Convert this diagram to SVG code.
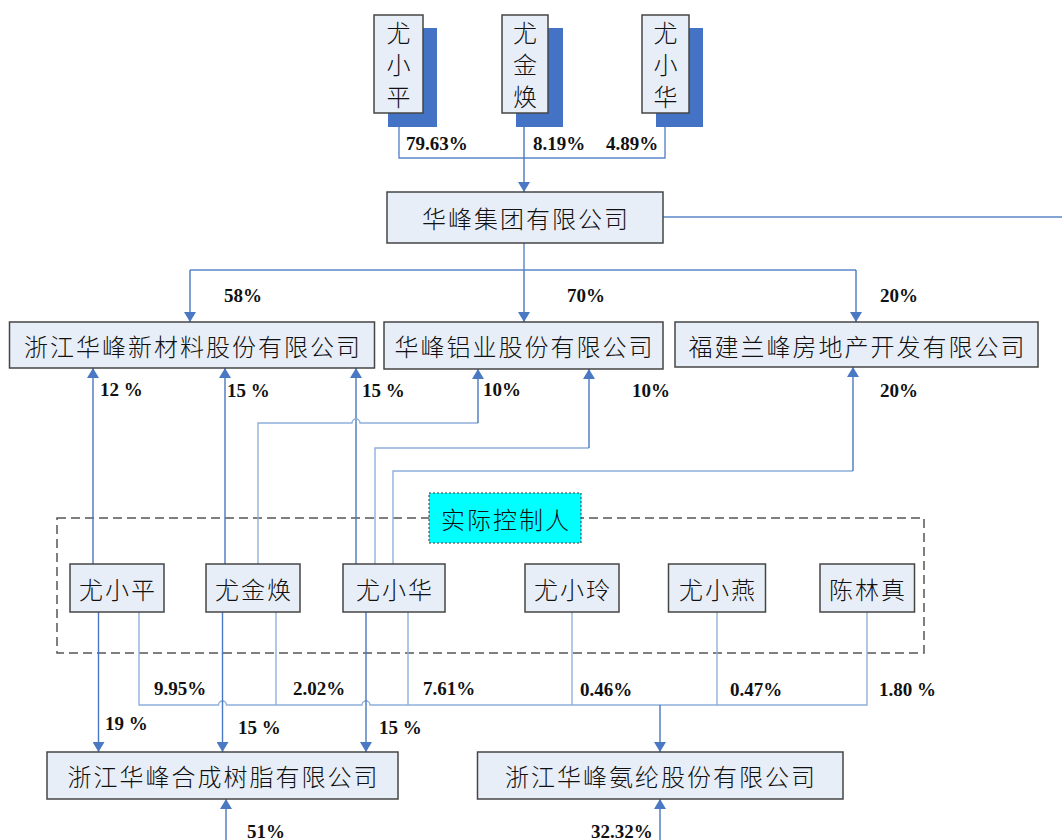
<svg xmlns="http://www.w3.org/2000/svg" width="1062" height="840" viewBox="0 0 1062 840">
<defs>
<marker id="arr" viewBox="0 0 10 12" refX="10" refY="6" markerWidth="10" markerHeight="12" markerUnits="userSpaceOnUse" orient="auto">
<path d="M0,0 L10,6 L0,12 Z" fill="#4a78c2"/>
</marker>
<style>
.box{fill:#e8eef8;stroke:#454545;stroke-width:1.5}
.shadow{fill:#4472c4}
.t{font-family:"Noto Sans CJK SC","Noto Sans",sans-serif;font-size:24px;font-weight:300;fill:#111;text-anchor:middle;dominant-baseline:central;letter-spacing:2px}
.tv{font-family:"Noto Sans CJK SC","Noto Sans",sans-serif;font-size:24px;font-weight:300;fill:#111;text-anchor:middle;dominant-baseline:central}
.p{font-family:"Liberation Serif","Times New Roman",serif;font-size:19px;font-weight:bold;fill:#111}
.ln{fill:none;stroke:#5b86c8;stroke-width:1.4}
.lnl{fill:none;stroke:#8fafdc;stroke-width:1.4}
.a{fill:none;stroke:#4a78c2;stroke-width:1.4;marker-end:url(#arr)}
</style>
</defs>
<rect width="1062" height="840" fill="#ffffff"/>

<g id="group-frame">
<rect x="57" y="518" width="867" height="135" fill="none" stroke="#555" stroke-width="1.5" stroke-dasharray="9,5"/>
</g>

<g id="connectors">
<path class="ln" d="M399,113 V158 H665 V127"/>
<path class="a" d="M524,113 V192"/>
<path class="ln" d="M663,217 H1062"/>
<path class="ln" d="M524,243 V270"/>
<path class="ln" d="M190,270 H856"/>
<path class="a" d="M190,270 V322"/>
<path class="a" d="M524,270 V322"/>
<path class="a" d="M856,270 V322"/>
<path class="a" d="M93,564 V368"/>
<path class="a" d="M225,564 V368"/>
<path class="a" d="M356,564 V368"/>
<path class="lnl" d="M258,564 V423 H352 A4,4 0 0 1 360,423 H478"/>
<path class="a" d="M478,423 V369"/>
<path class="lnl" d="M375,564 V448 H589"/>
<path class="a" d="M589,448 V369"/>
<path class="lnl" d="M393,564 V471 H853"/>
<path class="a" d="M853,471 V367"/>
<path class="lnl" d="M139,612 V705 H218.5 A4,4 0 0 1 226.5,705 H362 A4,4 0 0 1 370,705 H867 V612"/>
<path class="lnl" d="M276,612 V705"/>
<path class="lnl" d="M408,612 V705"/>
<path class="lnl" d="M572,612 V705"/>
<path class="lnl" d="M717,612 V705"/>
<path class="a" d="M660,705 V752"/>
<path class="a" d="M98.5,612 V752"/>
<path class="a" d="M222.5,612 V752"/>
<path class="a" d="M366,612 V752"/>
<path class="a" d="M226,840 V799"/>
<path class="a" d="M660,840 V799"/>
</g>

<g id="n-yxp-top">
<rect class="shadow" x="388" y="28" width="49" height="99"/>
<rect class="box" x="374" y="15" width="49" height="98"/>
<text class="tv" x="398.5" y="31">尤</text><text class="tv" x="398.5" y="63">小</text><text class="tv" x="398.5" y="95">平</text>
</g>
<g id="n-yjh-top">
<rect class="shadow" x="516" y="28" width="47" height="99"/>
<rect class="box" x="502" y="15" width="46" height="98"/>
<text class="tv" x="525" y="31">尤</text><text class="tv" x="525" y="63">金</text><text class="tv" x="525" y="95">焕</text>
</g>
<g id="n-yxh-top">
<rect class="shadow" x="656" y="28" width="47" height="99"/>
<rect class="box" x="642" y="15" width="47" height="98"/>
<text class="tv" x="665.5" y="31">尤</text><text class="tv" x="665.5" y="63">小</text><text class="tv" x="665.5" y="95">华</text>
</g>

<g id="n-group">
<rect class="box" x="387" y="192" width="276" height="51"/>
<text class="t" x="526" y="217">华峰集团有限公司</text>
</g>
<g id="n-xincailiao">
<rect class="box" x="9.5" y="322" width="365" height="46"/>
<text class="t" x="193" y="345">浙江华峰新材料股份有限公司</text>
</g>
<g id="n-lvye">
<rect class="box" x="384" y="322" width="279" height="47"/>
<text class="t" x="524.5" y="345">华峰铝业股份有限公司</text>
</g>
<g id="n-fujian">
<rect class="box" x="675" y="322" width="363" height="45"/>
<text class="t" x="857.5" y="345">福建兰峰房地产开发有限公司</text>
</g>

<g id="n-label">
<rect x="429" y="493" width="152" height="50" fill="#00ffff" stroke="#333" stroke-width="1" stroke-dasharray="2,2"/>
<text class="t" x="506" y="518">实际控制人</text>
</g>

<g id="n-yxp"><rect class="box" x="70" y="564" width="94" height="48"/><text class="t" x="118" y="588">尤小平</text></g>
<g id="n-yjh"><rect class="box" x="206" y="564" width="94" height="48"/><text class="t" x="254" y="588">尤金焕</text></g>
<g id="n-yxh"><rect class="box" x="343" y="564" width="102" height="48"/><text class="t" x="395" y="588">尤小华</text></g>
<g id="n-yxl"><rect class="box" x="525" y="564" width="94" height="48"/><text class="t" x="573" y="588">尤小玲</text></g>
<g id="n-yxy"><rect class="box" x="668.5" y="564" width="97" height="48"/><text class="t" x="718" y="588">尤小燕</text></g>
<g id="n-clz"><rect class="box" x="820" y="564" width="94.5" height="48"/><text class="t" x="868" y="588">陈林真</text></g>

<g id="n-shuzhi">
<rect class="box" x="47" y="752" width="351" height="47"/>
<text class="t" x="223.5" y="775.5">浙江华峰合成树脂有限公司</text>
</g>
<g id="n-anlun">
<rect class="box" x="477.5" y="752" width="365.5" height="47"/>
<text class="t" x="661" y="775.5">浙江华峰氨纶股份有限公司</text>
</g>

<g id="labels">
<text class="p" x="406" y="150">79.63%</text>
<text class="p" x="533" y="150">8.19%</text>
<text class="p" x="606" y="150">4.89%</text>
<text class="p" x="224" y="302">58%</text>
<text class="p" x="567" y="302">70%</text>
<text class="p" x="880" y="302">20%</text>
<text class="p" x="100" y="396">12 %</text>
<text class="p" x="227" y="397">15 %</text>
<text class="p" x="362" y="397">15 %</text>
<text class="p" x="483" y="396">10%</text>
<text class="p" x="632" y="397">10%</text>
<text class="p" x="880" y="397">20%</text>
<text class="p" x="154" y="695">9.95%</text>
<text class="p" x="293" y="695">2.02%</text>
<text class="p" x="423" y="695">7.61%</text>
<text class="p" x="580" y="696">0.46%</text>
<text class="p" x="730" y="696">0.47%</text>
<text class="p" x="879" y="696">1.80 %</text>
<text class="p" x="105" y="730">19 %</text>
<text class="p" x="238" y="734">15 %</text>
<text class="p" x="379" y="734">15 %</text>
<text class="p" x="247" y="838">51%</text>
<text class="p" x="591" y="838">32.32%</text>
</g>
</svg>
